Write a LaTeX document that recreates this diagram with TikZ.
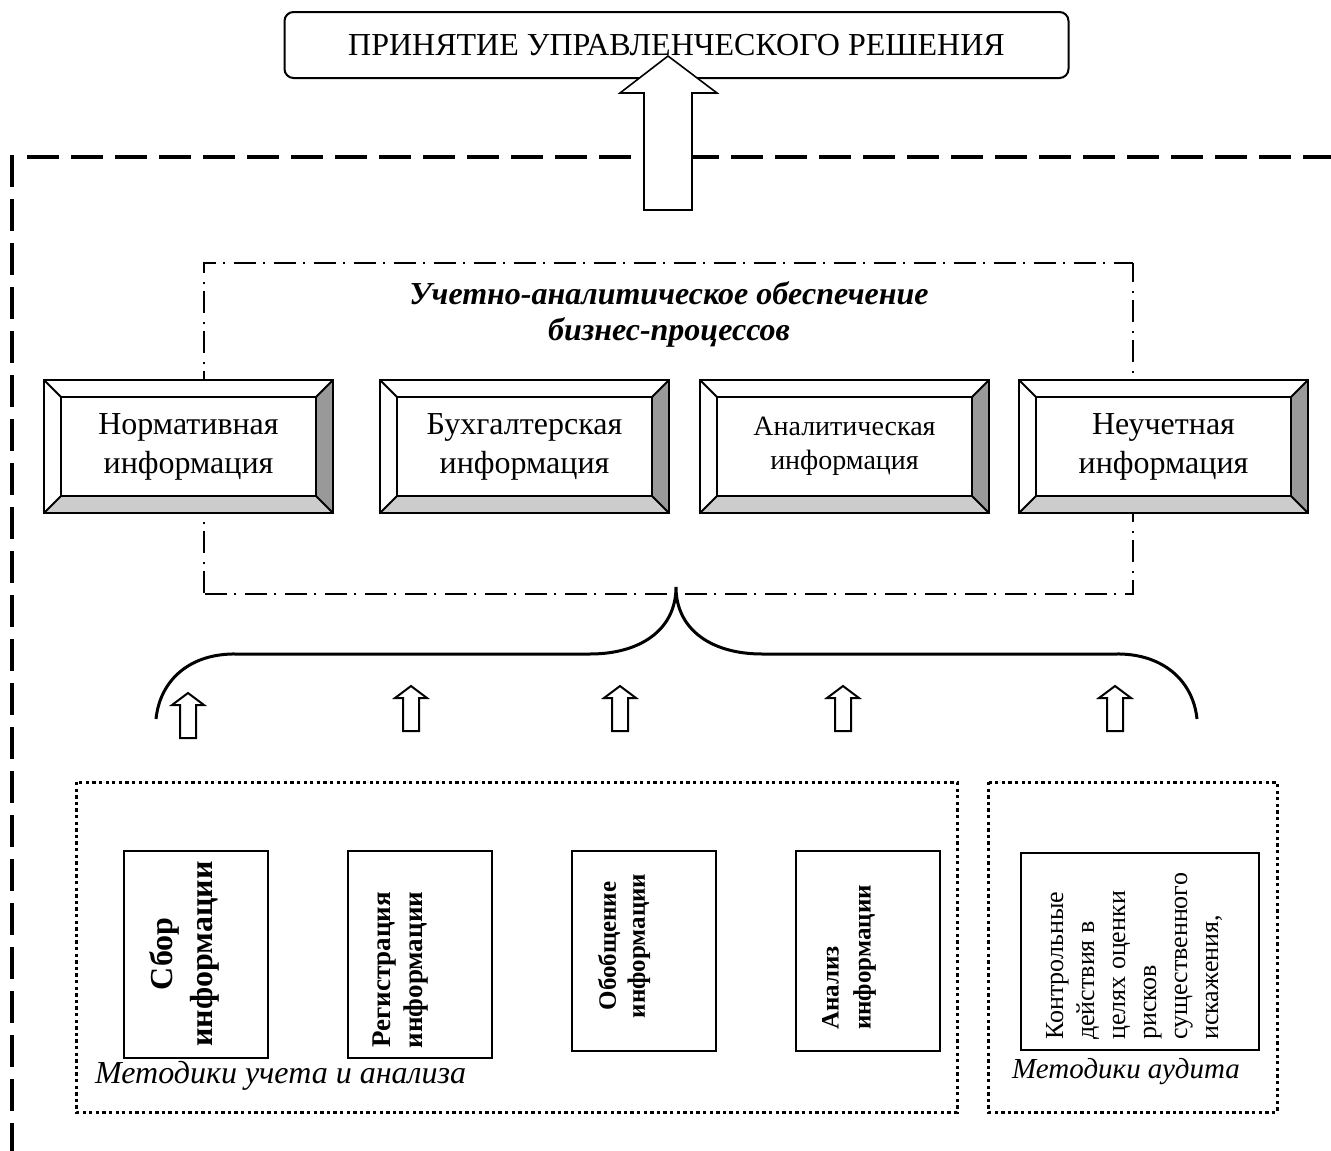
\documentclass[tikz,border=0pt]{standalone}
\usepackage{fontspec}
\setmainfont{Liberation Serif}
\definecolor{bevdark}{HTML}{999999}
\definecolor{bevlight}{HTML}{CCCCCC}
\newcommand\fsz[2]{\fontsize{#1}{#2}\selectfont}
\newcommand\bevbox[4]{%
 \begin{scope}[shift={(#2,380)}]
  \fill[white] (0,0) rectangle (289,133);
  \fill[bevdark] (289,0) -- (289,133) -- (272,116) -- (272,17) -- cycle;
  \fill[bevlight] (0,133) -- (289,133) -- (272,116) -- (17,116) -- cycle;
  \draw[bevline] (0,0) rectangle (289,133);
  \draw[bevline] (0,0) -- (17,17) (289,0) -- (272,17) (0,133) -- (17,116) (289,133) -- (272,116);
  \node[draw, bevline, minimum width=255pt, minimum height=99pt, inner sep=0pt, align=center, font=#3] (#1) at (144.5,66.5) {#4};
 \end{scope}}
\begin{document}
\begin{tikzpicture}[x=1pt,y=-1pt,
  bevline/.style={line width=2pt, line join=miter},
  outerdash/.style={line width=4pt, dash pattern=on 32pt off 12pt},
  dashdotline/.style={line width=2pt, dash pattern=on 22pt off 7pt on 2pt off 9pt},
  dotline/.style={line width=3pt, dash pattern=on 3.3pt off 3.3pt},
  methbox/.style={draw, line width=2pt, inner sep=0pt},
  blockarrow/.style={draw, line width=1.6pt, fill=white, line join=miter},
  smallarrow/.style={draw, line width=2pt, fill=white, line join=miter}]
\useasboundingbox (0,0) rectangle (1331,1151);

% top decision box
\node[draw, line width=2pt, rounded corners=9pt, minimum width=784pt, minimum height=66pt, inner sep=0pt,
  font=\fsz{32}{38}] (top) at (676.5,45) {ПРИНЯТИЕ УПРАВЛЕНЧЕСКОГО РЕШЕНИЯ};

% outer dashed frame (open to right and bottom)
\draw[outerdash] (12,155) -- (12,1160);
\draw[outerdash] (27,157) -- (1340,157);

% big arrow up to the decision
\draw[blockarrow] (668,56) -- (717,93) -- (692,93) -- (692,210) -- (644,210) -- (644,93) -- (620,93) -- cycle;

% dash-dot box
\draw[dashdotline, dash phase=-1pt] (204,594) -- (204,263) -- (1133,263);
\draw[dashdotline, dash phase=-1pt] (204,594) -- (1133,594) -- (1133,263);
\node[font=\fsz{32}{36}\bfseries\itshape, align=center] (title) at (669,314)
  {Учетно-аналитическое обеспечение\\бизнес-процессов};

% four bevel boxes
\bevbox{b1}{44}{\fsz{32}{39}}{Нормативная\\информация}
\bevbox{b2}{380}{\fsz{32}{39}}{Бухгалтерская\\информация}
\bevbox{b3}{700}{\fsz{28}{34}}{Аналитическая\\информация}
\bevbox{b4}{1019}{\fsz{32}{39}}{Неучетная\\информация}

% brace
\draw[line width=3pt] (156,719) .. controls (160,680) and (190,653) .. (237,654)
  -- (590,654) .. controls (640,654) and (676,630) .. (676,587)
  .. controls (676,630) and (712,654) .. (762,654)
  -- (1115,654) .. controls (1162,653) and (1193,680) .. (1197,719);

% small arrows
\foreach \x/\y in {188/693, 411/686, 620/686, 843/686, 1115/686}{
  \draw[smallarrow] (\x,\y) -- (\x+16,\y+12) -- (\x+8,\y+12) -- (\x+8,\y+45)
    -- (\x-8,\y+45) -- (\x-8,\y+12) -- (\x-16,\y+12) -- cycle;
}

% dotted method boxes
\draw[dotline] (76,782) rectangle (957,1112);
\draw[dotline] (988,782) rectangle (1277,1112);

% method boxes
\node[methbox, minimum width=144pt, minimum height=207pt] (m1) at (196,954.5) {};
\node[methbox, minimum width=144pt, minimum height=207pt] (m2) at (420,954.5) {};
\node[methbox, minimum width=144pt, minimum height=200pt] (m3) at (644,951) {};
\node[methbox, minimum width=144pt, minimum height=200pt] (m4) at (868,951) {};
\node[methbox, minimum width=238pt, minimum height=197pt] (m5) at (1140,951.5) {};

\node[rotate=90, font=\fsz{32}{40}\bfseries, align=center, inner sep=0pt] (t1) at (184,954) {Сбор\\информации};
\node[rotate=90, font=\fsz{27}{32}\bfseries, align=center, inner sep=0pt] (t2) at (401,970) {Регистрация\\информации};
\node[rotate=90, font=\fsz{25}{29}\bfseries, align=center, inner sep=0pt] (t3) at (624,946) {Обобщение\\информации};
\node[rotate=90, font=\fsz{25}{32}\bfseries, align=left, inner sep=0pt, anchor=north west] (t4) at (822,1030) {Анализ\\информации};
\node[rotate=90, font=\fsz{26}{31}, align=left, inner sep=0pt, anchor=north west] (t5) at (1046,1040)
  {Контрольные\\действия в\\целях оценки\\рисков\\существенного\\искажения,};

\node[font=\fsz{32}{38}\itshape, anchor=base west, inner sep=0pt] (l1) at (95,1083) {Методики учета и анализа};
\node[font=\fsz{29}{34}\itshape, anchor=base west, inner sep=0pt] (l2) at (1012,1078) {Методики аудита};
\end{tikzpicture}
\end{document}
